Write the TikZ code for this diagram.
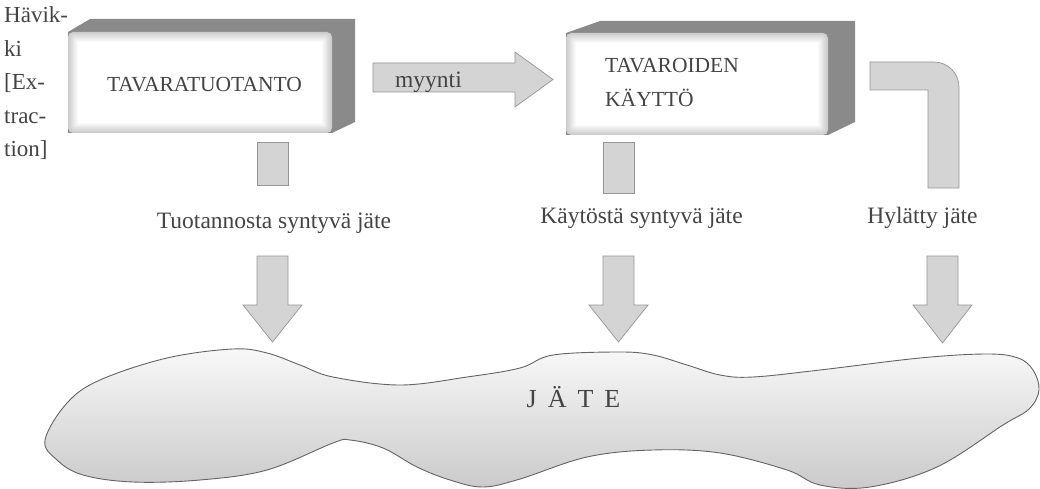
\documentclass[tikz,border=0pt]{standalone}
\usepackage{fontspec}
\setmainfont{Liberation Serif}
\usetikzlibrary{calc}
\definecolor{boxdark}{RGB}{138,138,138}
\definecolor{boxmid}{RGB}{162,162,162}
\definecolor{arrfill}{RGB}{212,212,212}
\definecolor{arrline}{RGB}{150,150,150}
\definecolor{txt}{RGB}{68,68,68}
\definecolor{blobtop}{RGB}{248,248,248}
\definecolor{blobbot}{RGB}{202,202,202}
\definecolor{blobline}{RGB}{100,100,100}
\begin{document}
\begin{tikzpicture}[x=1pt,y=-1pt,
  arrowshape/.style={fill=arrfill,draw=arrline,line width=0.7pt,line join=miter},
  lbl/.style={text=txt,font=\fontsize{23.5}{28}\selectfont,inner sep=0pt},
  boxtext/.style={text=txt,font=\fontsize{21.5}{34}\selectfont,inner sep=0pt}]
\useasboundingbox[fill=white] (0,0) rectangle (1040,489);

% box 1
\fill[boxdark] (68,32) -- (90,19) -- (355,19) -- (355,122) -- (332,133) -- (68,133) -- cycle;
\foreach \k in {10,...,0} {
  \pgfmathsetmacro{\w}{100-5.5*\k}
  \pgfmathsetmacro{\rc}{0.5*\k}
  \fill[white!\w!boxmid, rounded corners=\rc pt] (78-\k,42-\k) rectangle (322+\k,123+\k);
}
% box 2
\fill[boxdark] (566,33) -- (600,21) -- (855,21) -- (855,122) -- (828,135) -- (566,135) -- cycle;
\foreach \k in {10,...,0} {
  \pgfmathsetmacro{\w}{100-5.5*\k}
  \pgfmathsetmacro{\rc}{0.5*\k}
  \fill[white!\w!boxmid, rounded corners=\rc pt] (576-\k,43-\k) rectangle (818+\k,125+\k);
}

\node[boxtext, anchor=base] (prod) at (204.5,92) {TAVARATUOTANTO};
\node[boxtext, anchor=base west, align=left] (use) at (605,107) {TAVAROIDEN\\KÄYTTÖ};

% left text
\node[lbl, anchor=base west, align=left, font=\fontsize{23}{33.5}\selectfont] (hav) at (4,157) {Hävik-\\ki\\{[}Ex-\\trac-\\tion{]}};

% myynti arrow
\path[arrowshape] (373,63) -- (515,63) -- (515,52) -- (553,79.5) -- (515,107) -- (515,92) -- (373,92) -- cycle;
\node[lbl, anchor=base west] (sale) at (395,88) {myynti};

% stubs
\path[arrowshape] (257,142) rectangle (288,185);
\path[arrowshape] (603,142) rectangle (634,193);
\path[arrowshape] (870,62) -- (934,62) .. controls (947.8,62) and (959,73.2) .. (959,87) -- (959,188) -- (928,188) -- (928,90) -- (870,90) -- cycle;

% labels
\node[lbl, anchor=base] (l1) at (274,228) {Tuotannosta syntyvä jäte};
\node[lbl, anchor=base] (l2) at (641.5,223) {Käytöstä syntyvä jäte};
\node[lbl, anchor=base] (l3) at (922.5,223) {Hylätty jäte};

% down arrows
\path[arrowshape] (257,256) -- (288,256) -- (288,305) -- (302,305) -- (272.5,342) -- (243,305) -- (257,305) -- cycle;
\path[arrowshape] (603,256) -- (634,256) -- (634,305) -- (648,305) -- (618.5,342) -- (589,305) -- (603,305) -- cycle;
\path[arrowshape] (927,256) -- (958,256) -- (958,305) -- (972,305) -- (942.5,343) -- (913,305) -- (927,305) -- cycle;

% waste blob
\path[draw=blobline, line width=0.9pt, top color=blobtop, bottom color=blobbot]
  plot[smooth cycle, tension=0.6] coordinates {
  (45,440) (67,403) (100,380) (167,358) (233,349) (267,353) (300,365) (333,377)
  (400,385) (467,377) (520,368) (553,355) (620,352) (653,355) (687,365) (720,375)
  (753,377) (820,370) (920,358) (987,354) (1018,358) (1033,370) (1039,390) (1029,409)
  (1003,425) (937,467) (870,487) (820,485) (787,470) (720,453) (653,450) (587,457)
  (520,479) (483,487) (450,480) (417,467) (383,448) (350,440) (333,443) (267,470)
  (200,480) (133,482) (83,475) (57,460)};
\node[lbl, anchor=base, font=\fontsize{26}{30}\selectfont] (waste) at (573.5,407) {J\hspace{11pt}Ä\hspace{11pt}T\hspace{11pt}E};
\end{tikzpicture}
\end{document}
